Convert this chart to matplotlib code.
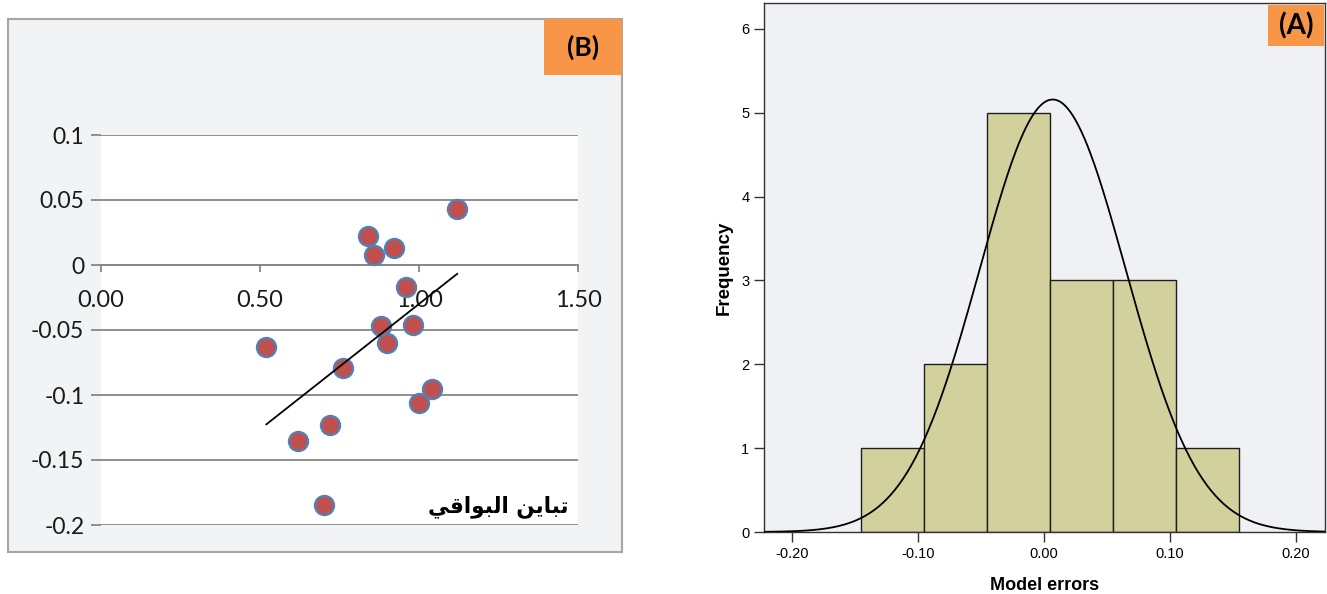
import numpy as np
import matplotlib
matplotlib.use("Agg")
import matplotlib.pyplot as plt
from matplotlib.patches import Rectangle

W, H = 1327, 594

# panel (B): residual variance vs residual
resid_var = [1.12, 0.84, 0.92, 0.86, 0.96, 0.52, 0.88, 0.98, 0.90, 0.76, 1.04, 1.00, 0.72, 0.62, 0.70]
resid = [0.043, 0.022, 0.013, 0.008, -0.017, -0.063, -0.047, -0.046, -0.060, -0.079,
         -0.095, -0.106, -0.123, -0.135, -0.185]
b_yticks = [0.1, 0.05, 0, -0.05, -0.1, -0.15, -0.2]
b_ytick_labels = ["0.1", "0.05", "0", "-0.05", "-0.1", "-0.15", "-0.2"]
b_xticks = [0.0, 0.5, 1.0, 1.5]
b_xtick_labels = ["0.00", "0.50", "1.00", "1.50"]
b_xlabel = "تباين البواقي"

# panel (A): histogram of model errors with normal curve
bin_edges = [-0.145, -0.095, -0.045, 0.005, 0.055, 0.105, 0.155]
counts = [1, 2, 5, 3, 3, 1]
err_mean = 0.007
err_sd = 0.058
a_xticks = [-0.2, -0.1, 0.0, 0.1, 0.2]
a_xtick_labels = ["-0.20", "-0.10", "0.00", "0.10", "0.20"]
a_yticks = [0, 1, 2, 3, 4, 5, 6]


# matplotlib has no arabic shaping, so pick presentation forms by hand
FORMS = {  # isolated, final, initial, medial
    'ا': ('\uFE8D', '\uFE8E', None, None),
    'ب': ('\uFE8F', '\uFE90', '\uFE91', '\uFE92'),
    'ت': ('\uFE95', '\uFE96', '\uFE97', '\uFE98'),
    'ي': ('\uFEF1', '\uFEF2', '\uFEF3', '\uFEF4'),
    'ن': ('\uFEE5', '\uFEE6', '\uFEE7', '\uFEE8'),
    'ل': ('\uFEDD', '\uFEDE', '\uFEDF', '\uFEE0'),
    'و': ('\uFEED', '\uFEEE', None, None),
    'ق': ('\uFED5', '\uFED6', '\uFED7', '\uFED8'),
}


def shape_arabic(s):
    out = []
    for i, ch in enumerate(s):
        if ch not in FORMS:
            out.append(ch)
            continue
        prev = s[i - 1] if i > 0 else ''
        nxt = s[i + 1] if i + 1 < len(s) else ''
        j_prev = prev in FORMS and FORMS[prev][2] is not None
        j_next = FORMS[ch][2] is not None and nxt in FORMS
        iso, fin, ini, med = FORMS[ch]
        if j_prev and j_next:
            out.append(med)
        elif j_prev:
            out.append(fin)
        elif j_next:
            out.append(ini)
        else:
            out.append(iso)
    return ''.join(out)[::-1]


def box(x0, y0, x1, y1):
    # pixel box -> figure fraction [left, bottom, width, height]
    return [x0 / W, 1 - y1 / H, (x1 - x0) / W, (y1 - y0) / H]


fig = plt.figure(figsize=(W / 100, H / 100), dpi=100)

# ---- panel B frame
l, b, w, h = box(8, 19, 622, 552)
fig.patches.append(Rectangle((l, b), w, h, transform=fig.transFigure,
                             fc='#f1f3f4', ec='#a6a6a6', lw=1.5, zorder=-2))

axb = fig.add_axes(box(101, 135, 578, 525), zorder=1)
axb.set_facecolor('white')
axb.set_xlim(0, 1.5)
axb.set_ylim(-0.2, 0.1)
axb.set_yticks(b_yticks)
axb.set_yticklabels(b_ytick_labels)
axb.set_xticks(b_xticks)
axb.set_xticklabels(b_xtick_labels)
for yv in b_yticks:
    axb.axhline(yv, color='#868686', lw=1.3, zorder=1)
for s in ['left', 'right', 'top']:
    axb.spines[s].set_visible(False)
axb.spines['bottom'].set_position(('data', 0))
axb.spines['bottom'].set_color('#868686')
axb.spines['bottom'].set_linewidth(1.3)
axb.tick_params(axis='y', direction='out', length=7, width=1.3, color='#868686',
                labelsize=16.5, pad=5)
axb.tick_params(axis='x', direction='out', length=5, width=1.3, color='#868686',
                labelsize=17, pad=13)
for t in axb.get_xticklabels() + axb.get_yticklabels():
    t.set_family('Lato')
    t.set_color('#1a1a1a')

axb.scatter(resid_var, resid, s=190, c='#c0504d', edgecolors='#4f81bd',
            linewidths=1.6, zorder=3)
k, c0 = np.polyfit(resid_var, resid, 1)
xs = np.array([min(resid_var), max(resid_var)])
axb.plot(xs, k * xs + c0, color='black', lw=1.3, zorder=4)
axb.text(1.472, -0.186, shape_arabic(b_xlabel), ha='right', va='center',
         fontsize=15.5, fontweight='bold', family='DejaVu Sans', zorder=5)

l, b, w, h = box(544, 19, 622, 75)
fig.patches.append(Rectangle((l, b), w, h, transform=fig.transFigure,
                             fc='#f79646', ec='none', zorder=5))
fig.text(l + w / 2, b + h / 2, "(B)", ha='center', va='center', fontsize=19,
         fontweight='bold', family='Lato', zorder=6)

# ---- panel A
axa = fig.add_axes(box(764, 3, 1325, 532))
axa.set_facecolor('#eff1f4')
axa.set_xlim(-0.222, 0.223)
axa.set_ylim(0, 6.31)
axa.hist(bin_edges[:-1], bins=bin_edges, weights=counts, color='#d2d09c',
         edgecolor='#1e1e1e', lw=1.0, zorder=2)
gx = np.linspace(-0.222, 0.223, 400)
bw = bin_edges[1] - bin_edges[0]
gy = sum(counts) * bw * np.exp(-0.5 * ((gx - err_mean) / err_sd) ** 2) / (err_sd * np.sqrt(2 * np.pi))
axa.plot(gx, gy, color='black', lw=1.3, zorder=3)
axa.set_xticks(a_xticks)
axa.set_xticklabels(a_xtick_labels)
axa.set_yticks(a_yticks)
for s in axa.spines.values():
    s.set_color('#333333')
    s.set_linewidth(1.0)
axa.tick_params(direction='out', length=7, width=1.0, color='#333333', labelsize=10.5)
for t in axa.get_xticklabels() + axa.get_yticklabels():
    t.set_family('Liberation Sans')
axa.set_xlabel("Model errors", fontsize=13, fontweight='bold', family='Liberation Sans',
               labelpad=12)
axa.set_ylabel("Frequency", fontsize=13.5, fontweight='bold', family='Liberation Sans',
               labelpad=6)

l, b, w, h = box(1268, 5, 1324, 46)
fig.patches.append(Rectangle((l, b), w, h, transform=fig.transFigure,
                             fc='#f79646', ec='none', zorder=5))
fig.text(l + w / 2, b + h / 2, "(A)", ha='center', va='center', fontsize=20,
         fontweight='bold', family='Lato', zorder=6)

fig.savefig("out.png", dpi=100)
